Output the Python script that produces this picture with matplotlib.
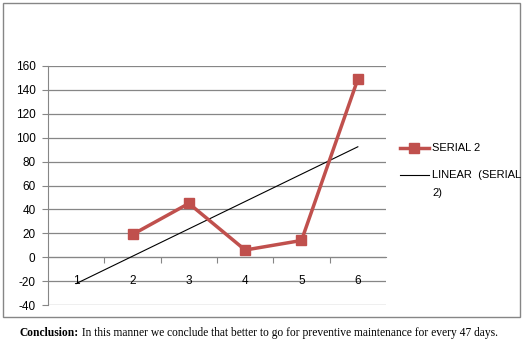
import numpy as np
import matplotlib.pyplot as plt
from matplotlib.lines import Line2D
from matplotlib.patches import Rectangle

# data
categories = [1, 2, 3, 4, 5, 6]
serial_x = [2, 3, 4, 5, 6]
serial_2 = [19, 45, 6, 14, 149]
yticks = [-40, -20, 0, 20, 40, 60, 80, 100, 120, 140, 160]

red = '#C0504D'
grey = '#868686'

plt.rcParams['font.family'] = ['Liberation Sans', 'DejaVu Sans']

fig = plt.figure(figsize=(5.29, 3.48), dpi=100)
W, H = 529, 348
ax = fig.add_axes([48 / W, 1 - 305 / H, (386 - 48) / W, (305 - 66) / H])

# outer chart border
fig.add_artist(Rectangle((3 / W, 1 - 317 / H), 517 / W, 314 / H,
                         transform=fig.transFigure, fill=False,
                         edgecolor=grey, linewidth=1))

ax.set_xlim(0.5, 6.5)
ax.set_ylim(-40, 160)
ax.set_yticks(yticks)
ax.set_yticklabels([str(v) for v in yticks], fontsize=8.5)
ax.tick_params(axis='y', length=4, color=grey, pad=5)
for v in yticks:
    ax.axhline(v, color=grey, linewidth=0.9, zorder=1)

for s in ['top', 'right']:
    ax.spines[s].set_visible(False)
ax.spines['left'].set_color(grey)
ax.spines['bottom'].set_position(('data', 0))
ax.spines['bottom'].set_color(grey)
ax.set_xticks([1.5, 2.5, 3.5, 4.5, 5.5])
ax.set_xticklabels([])
ax.tick_params(axis='x', length=4, color=grey, direction='out')
for c in categories:
    ax.text(c, -20, str(c), ha='center', va='center', fontsize=8.5, zorder=2)

# series and linear trend
ax.plot(serial_x, serial_2, color=red, linewidth=2.5, marker='s',
        markersize=7, zorder=4)
slope, intercept = np.polyfit(serial_x, serial_2, 1)
tx = np.array([categories[0], categories[-1]])
ax.plot(tx, slope * tx + intercept, color='black', linewidth=0.8, zorder=3)

# legend drawn by hand
fig.add_artist(Line2D([400 / W, 429 / W], [1 - 148 / H] * 2, color=red,
                      linewidth=2.5, transform=fig.transFigure))
fig.add_artist(Line2D([414 / W], [1 - 148 / H], color=red, marker='s',
                      markersize=7, transform=fig.transFigure))
fig.text(432 / W, 1 - 148 / H, 'SERIAL 2', fontsize=8, va='center')
fig.add_artist(Line2D([400 / W, 429 / W], [1 - 175 / H] * 2, color='black',
                      linewidth=0.8, transform=fig.transFigure))
fig.text(432 / W, 1 - 175 / H, 'LINEAR  (SERIAL', fontsize=8, va='center')
fig.text(432 / W, 1 - 193 / H, '2)', fontsize=8, va='center')

# caption
t1 = fig.text(20 / W, 1 - 333 / H, 'Conclusion:', fontsize=8.3,
              fontweight='bold', family='Liberation Serif', va='center')
ax.annotate(' In this manner we conclude that better to go for preventive maintenance for every 47 days.',
            xy=(1, 0.5), xycoords=t1, va='center', ha='left', fontsize=8.3,
            family='Liberation Serif', annotation_clip=False)

fig.savefig('out.png', dpi=100)
